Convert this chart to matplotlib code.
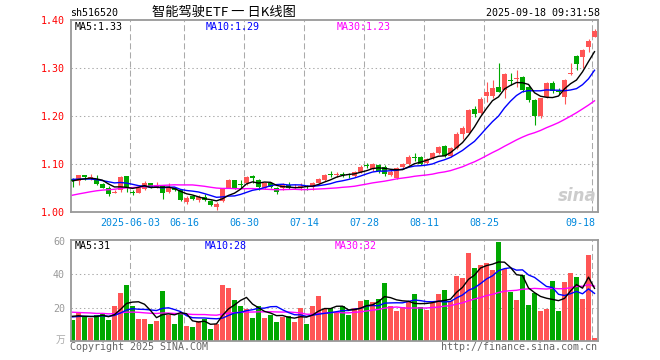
import matplotlib
matplotlib.use('Agg')
import matplotlib.pyplot as plt
import matplotlib.transforms as mtransforms
import numpy as np
import pandas as pd

# ---------------- data ----------------
tick_labels = ['2025-06-03', '06-16', '06-30', '07-14', '07-28', '08-11', '08-25', '09-18']
tick_idx = [10, 19, 29, 39, 49, 59, 69, 87]

open_ = [1.068, 1.065, 1.077, 1.070, 1.068, 1.058, 1.050, 1.040, 1.045, 1.075,
         1.042, 1.040, 1.048, 1.060, 1.050, 1.054, 1.041, 1.049, 1.045, 1.020,
         1.033, 1.026, 1.032, 1.022, 1.011, 1.022, 1.051, 1.066, 1.058, 1.060,
         1.074, 1.066, 1.049, 1.060, 1.049, 1.049, 1.056, 1.050, 1.052, 1.053,
         1.053, 1.060, 1.066, 1.078, 1.077, 1.080, 1.079, 1.075, 1.084, 1.098,
         1.089, 1.098, 1.094, 1.078, 1.071, 1.094, 1.100, 1.115, 1.114, 1.102,
         1.112, 1.122, 1.138, 1.117, 1.134, 1.163, 1.164, 1.214, 1.207, 1.242,
         1.242, 1.261, 1.254, 1.276, 1.278, 1.281, 1.261, 1.233, 1.199, 1.239,
         1.269, 1.253, 1.240, 1.288, 1.325, 1.322, 1.343, 1.365]
high = [1.070, 1.078, 1.078, 1.079, 1.077, 1.060, 1.055, 1.046, 1.075, 1.076,
        1.045, 1.053, 1.065, 1.061, 1.062, 1.056, 1.060, 1.052, 1.047, 1.033,
        1.035, 1.035, 1.037, 1.025, 1.020, 1.050, 1.069, 1.067, 1.066, 1.075,
        1.077, 1.068, 1.062, 1.062, 1.053, 1.060, 1.063, 1.058, 1.060, 1.057,
        1.063, 1.070, 1.080, 1.086, 1.084, 1.084, 1.082, 1.086, 1.097, 1.102,
        1.102, 1.101, 1.097, 1.088, 1.093, 1.103, 1.118, 1.122, 1.116, 1.112,
        1.126, 1.138, 1.140, 1.135, 1.166, 1.180, 1.214, 1.220, 1.240, 1.271,
        1.275, 1.311, 1.290, 1.289, 1.296, 1.283, 1.264, 1.235, 1.238, 1.271,
        1.272, 1.258, 1.277, 1.310, 1.327, 1.339, 1.361, 1.381]
low = [1.053, 1.056, 1.067, 1.067, 1.056, 1.050, 1.033, 1.039, 1.042, 1.042,
       1.036, 1.039, 1.046, 1.050, 1.049, 1.027, 1.039, 1.043, 1.022, 1.017,
       1.024, 1.020, 1.022, 1.013, 1.005, 1.020, 1.049, 1.048, 1.049, 1.056,
       1.060, 1.046, 1.047, 1.049, 1.037, 1.046, 1.047, 1.048, 1.045, 1.045,
       1.045, 1.058, 1.064, 1.073, 1.073, 1.072, 1.070, 1.073, 1.082, 1.092,
       1.086, 1.082, 1.075, 1.075, 1.069, 1.092, 1.098, 1.106, 1.098, 1.099,
       1.110, 1.120, 1.114, 1.114, 1.132, 1.153, 1.162, 1.197, 1.205, 1.230,
       1.237, 1.249, 1.237, 1.265, 1.261, 1.250, 1.230, 1.182, 1.195, 1.237,
       1.248, 1.245, 1.226, 1.285, 1.296, 1.300, 1.334, 1.364]
close = [1.065, 1.077, 1.073, 1.072, 1.058, 1.051, 1.038, 1.042, 1.073, 1.053,
         1.040, 1.049, 1.060, 1.053, 1.056, 1.040, 1.050, 1.045, 1.025, 1.030,
         1.027, 1.031, 1.026, 1.015, 1.017, 1.049, 1.066, 1.049, 1.056, 1.073,
         1.070, 1.053, 1.060, 1.053, 1.042, 1.056, 1.050, 1.053, 1.054, 1.052,
         1.060, 1.068, 1.078, 1.077, 1.080, 1.078, 1.078, 1.084, 1.094, 1.096,
         1.100, 1.086, 1.079, 1.084, 1.091, 1.101, 1.115, 1.112, 1.100, 1.110,
         1.123, 1.136, 1.116, 1.133, 1.162, 1.176, 1.212, 1.204, 1.236, 1.250,
         1.258, 1.251, 1.287, 1.273, 1.280, 1.255, 1.234, 1.200, 1.237, 1.269,
         1.252, 1.250, 1.275, 1.290, 1.308, 1.337, 1.357, 1.378]
volume = [12.7, 16.7, 14.3, 13.5, 15.7, 16.7, 12.3, 20.7, 28.7, 33.7,
          20.7, 13.3, 13.3, 10.3, 12.1, 29.7, 15.7, 10.3, 16.7, 9.1,
          8.5, 12.1, 12.9, 7.3, 10.3, 33.7, 31.7, 24.7, 20.7, 19.3,
          13.9, 20.7, 13.9, 15.7, 11.5, 14.5, 15.1, 11.5, 19.9, 10.3,
          20.7, 26.7, 19.3, 19.7, 17.3, 20.9, 15.7, 19.9, 24.1, 24.7,
          23.5, 25.3, 34.9, 21.1, 18.1, 20.5, 24.1, 28.3, 20.5, 18.7,
          22.9, 28.3, 30.7, 24.1, 39.1, 37.9, 52.3, 43.3, 45.3, 46.3,
          42.1, 58.9, 42.7, 29.5, 24.7, 39.7, 21.7, 28.9, 18.1, 19.3,
          36.1, 18.1, 35.5, 40.3, 38.5, 25.3, 51.1, 1.9]
# estimated sessions before the visible window (only feed the moving averages)
prior_close = [1.000, 1.005, 1.002, 0.998, 1.008, 1.012, 1.015, 1.020, 1.018, 1.022,
               1.025, 1.020, 1.024, 1.028, 1.026, 1.030, 1.027, 1.032, 1.030, 1.028,
               1.072, 1.070, 1.074, 1.069, 1.072, 1.062, 1.066, 1.064, 1.066]
prior_volume = [22, 19, 17, 24, 16, 20, 18, 15, 21, 19,
                17, 23, 18, 16, 20, 18, 17, 19, 16, 17,
                14, 13, 15, 14, 14, 15, 16, 14, 16]

# ---------------- style ----------------
RED = '#ff5555'
GREEN = '#00a800'
MONO = 'DejaVu Sans Mono'
CJK = ['Noto Sans CJK SC', 'DejaVu Sans']
W, H = 660, 360

n = len(close)
x = np.arange(n)
full_c = pd.Series(prior_close + close)
full_v = pd.Series(prior_volume + volume)
ma = {k: full_c.rolling(k).mean().values[-n:] for k in (5, 10, 30)}
vma = {k: full_v.rolling(k).mean().values[-n:] for k in (5, 10, 30)}

fig = plt.figure(figsize=(W / 100, H / 100), dpi=100)
fig.patch.set_facecolor('white')


def rect(l, t, r, b):
    return [l / W, 1 - b / H, (r - l) / W, (b - t) / H]


ax = fig.add_axes(rect(70.5, 20, 597.5, 212))
axv = fig.add_axes(rect(70.5, 240, 597.5, 341))

xl = ((70.5 - 72.5) / 6, (597.5 - 72.5) / 6)
grid_x = [i - 0.4 for i in tick_idx]

for a in (ax, axv):
    a.set_xlim(*xl)
    for s in a.spines.values():
        s.set_color('#999999')
        s.set_linewidth(1.3)
    a.set_xticks(grid_x)
    a.grid(axis='x', color='#aaaaaa', linestyle=(0, (5.8, 2.9)), linewidth=0.75)
    a.tick_params(length=0)
    a.set_axisbelow(True)

# price panel
ax.set_ylim(1.0, 1.4)
ax.set_yticks([1.0, 1.1, 1.2, 1.3, 1.4])
ax.set_yticklabels(['1.00', '1.10', '1.20', '1.30', '1.40'], color='red',
                   fontsize=7.2, family=MONO)
ax.tick_params(axis='y', pad=4)
for yv in (1.1, 1.2, 1.3):
    ax.axhline(yv, color='#aaaaaa', linestyle=(0, (1.33, 2.67)), linewidth=0.75, zorder=0)
ax.set_xticklabels(tick_labels, color='#0088dd', fontsize=7.2, family=MONO)
ax.tick_params(axis='x', pad=4)
lbls = ax.get_xticklabels()
lbls[-1].set_horizontalalignment('right')
lbls[-1].set_transform(lbls[-1].get_transform() +
                       mtransforms.ScaledTranslation(3 / 100, 0, fig.dpi_scale_trans))

cols = [RED if c >= o else GREEN for o, c in zip(open_, close)]
ax.vlines(x, low, high, colors=cols, linewidth=0.8, zorder=2)
bottoms = np.minimum(open_, close)
heights = np.maximum(np.abs(np.array(close) - np.array(open_)), 0.0018)
ax.bar(x, heights, bottom=bottoms, width=0.8, color=cols, linewidth=0, zorder=3)

ax.plot(x, ma[30], color='#ff00ff', linewidth=1.0, zorder=4)
ax.plot(x, ma[10], color='#0000ff', linewidth=1.0, zorder=4)
ax.plot(x, ma[5], color='black', linewidth=1.0, zorder=4)

# volume panel
axv.set_ylim(0, 60.3)
axv.set_yticks([20, 40, 60])
axv.set_yticklabels(['20', '40', '60'], color='#999999', fontsize=7.2, family=MONO)
axv.tick_params(axis='y', pad=4)
for yv in (20, 40):
    axv.axhline(yv, color='#aaaaaa', linestyle=(0, (1.33, 2.67)), linewidth=0.75, zorder=0)
axv.set_xticklabels([])
axv.bar(x, volume, width=0.85, color=cols, linewidth=0, zorder=2)
axv.plot(x, vma[30], color='#ff00ff', linewidth=1.0, zorder=4)
axv.plot(x, vma[10], color='#0000ff', linewidth=1.0, zorder=4)
axv.plot(x, vma[5], color='black', linewidth=1.0, zorder=4)


def tr2(v):
    return f"{np.floor(v * 100 + 1e-9) / 100:.2f}"


def ftext(px, py, s, **kw):
    kw.setdefault('va', 'center')
    fig.text(px / W, 1 - py / H, s, **kw)


# headers
ftext(70, 13, 'sh516520', family=MONO, fontsize=7.2, color='black')
ftext(224, 12.5, '智能驾驶ETF 一 日K线图', family=CJK, fontsize=9.5, color='black', ha='center')
ftext(600, 13, '2025-09-18 09:31:58', family=MONO, fontsize=7.2, color='black', ha='right')

# MA legends
ftext(75, 27, f"MA5:{tr2(ma[5][-1])}", family=MONO, fontsize=7.2, color='black')
ftext(206, 27, f"MA10:{tr2(ma[10][-1])}", family=MONO, fontsize=7.2, color='#0000ff')
ftext(337, 27, f"MA30:{tr2(ma[30][-1])}", family=MONO, fontsize=7.2, color='#ff00ff')
ftext(75, 246, f"MA5:{int(vma[5][-1])}", family=MONO, fontsize=7.2, color='black')
ftext(205, 246, f"MA10:{int(vma[10][-1])}", family=MONO, fontsize=7.2, color='#0000ff')
ftext(335, 246, f"MA30:{int(vma[30][-1])}", family=MONO, fontsize=7.2, color='#ff00ff')

# unit, footer, watermark
ftext(65, 340, '万', family=CJK, fontsize=7, color='#aaaaaa', ha='right')
ftext(70, 347, 'Copyright 2025 SINA.COM', family=MONO, fontsize=7.2, color='#666666')
ftext(597, 347, 'http://finance.sina.com.cn', family=MONO, fontsize=7.2, color='#666666', ha='right')
ftext(577, 196, 'sina', family='DejaVu Sans', fontsize=12, color='#cccccc',
      ha='center', style='italic', weight='bold')

fig.savefig('out.png', dpi=100, facecolor='white')
